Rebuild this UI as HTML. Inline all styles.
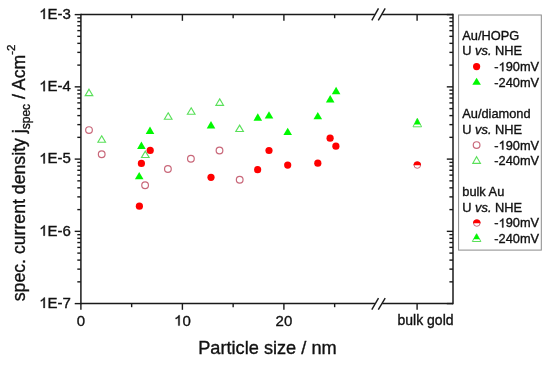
<!DOCTYPE html>
<html><head><meta charset="utf-8"><style>
html,body{margin:0;padding:0;background:#fff;}
body{width:550px;height:365px;position:relative;overflow:hidden;font-family:"Liberation Sans",sans-serif;}
</style></head><body>
<svg width="550" height="365" viewBox="0 0 550 365" style="position:absolute;left:0;top:0;will-change:transform">
<rect width="550" height="365" fill="#fff"/>
<g stroke="#1a1a1a" stroke-width="1.5" fill="none" stroke-linecap="butt">
<line x1="80.9" y1="13.85" x2="80.9" y2="304.35"/>
<line x1="453.0" y1="13.85" x2="453.0" y2="304.35"/>
<line x1="80.9" y1="14.6" x2="374.9" y2="14.6"/>
<line x1="382.2" y1="14.6" x2="453.0" y2="14.6"/>
<line x1="80.9" y1="303.6" x2="374.9" y2="303.6"/>
<line x1="382.2" y1="303.6" x2="453.0" y2="303.6"/>
</g>
<g stroke="#1a1a1a" stroke-width="1.4" fill="none">
<line x1="371.79999999999995" y1="20.4" x2="378.5" y2="8.399999999999999"/>
<line x1="378.3" y1="20.4" x2="385.2" y2="8.399999999999999"/>
<line x1="371.79999999999995" y1="309.70000000000005" x2="378.5" y2="298.1"/>
<line x1="378.3" y1="309.70000000000005" x2="385.2" y2="298.1"/>
</g>
<g stroke="#1a1a1a" stroke-width="1.4" fill="none">
<line x1="74.7" y1="14.6" x2="80.9" y2="14.6"/>
<line x1="446.8" y1="14.6" x2="453.0" y2="14.6"/>
<line x1="74.7" y1="86.85" x2="80.9" y2="86.85"/>
<line x1="446.8" y1="86.85" x2="453.0" y2="86.85"/>
<line x1="77.30000000000001" y1="65.10" x2="80.9" y2="65.10"/>
<line x1="449.4" y1="65.10" x2="453.0" y2="65.10"/>
<line x1="77.30000000000001" y1="52.38" x2="80.9" y2="52.38"/>
<line x1="449.4" y1="52.38" x2="453.0" y2="52.38"/>
<line x1="77.30000000000001" y1="43.35" x2="80.9" y2="43.35"/>
<line x1="449.4" y1="43.35" x2="453.0" y2="43.35"/>
<line x1="77.30000000000001" y1="36.35" x2="80.9" y2="36.35"/>
<line x1="449.4" y1="36.35" x2="453.0" y2="36.35"/>
<line x1="77.30000000000001" y1="30.63" x2="80.9" y2="30.63"/>
<line x1="449.4" y1="30.63" x2="453.0" y2="30.63"/>
<line x1="77.30000000000001" y1="25.79" x2="80.9" y2="25.79"/>
<line x1="449.4" y1="25.79" x2="453.0" y2="25.79"/>
<line x1="77.30000000000001" y1="21.60" x2="80.9" y2="21.60"/>
<line x1="449.4" y1="21.60" x2="453.0" y2="21.60"/>
<line x1="77.30000000000001" y1="17.91" x2="80.9" y2="17.91"/>
<line x1="449.4" y1="17.91" x2="453.0" y2="17.91"/>
<line x1="74.7" y1="159.1" x2="80.9" y2="159.1"/>
<line x1="446.8" y1="159.1" x2="453.0" y2="159.1"/>
<line x1="77.30000000000001" y1="137.35" x2="80.9" y2="137.35"/>
<line x1="449.4" y1="137.35" x2="453.0" y2="137.35"/>
<line x1="77.30000000000001" y1="124.63" x2="80.9" y2="124.63"/>
<line x1="449.4" y1="124.63" x2="453.0" y2="124.63"/>
<line x1="77.30000000000001" y1="115.60" x2="80.9" y2="115.60"/>
<line x1="449.4" y1="115.60" x2="453.0" y2="115.60"/>
<line x1="77.30000000000001" y1="108.60" x2="80.9" y2="108.60"/>
<line x1="449.4" y1="108.60" x2="453.0" y2="108.60"/>
<line x1="77.30000000000001" y1="102.88" x2="80.9" y2="102.88"/>
<line x1="449.4" y1="102.88" x2="453.0" y2="102.88"/>
<line x1="77.30000000000001" y1="98.04" x2="80.9" y2="98.04"/>
<line x1="449.4" y1="98.04" x2="453.0" y2="98.04"/>
<line x1="77.30000000000001" y1="93.85" x2="80.9" y2="93.85"/>
<line x1="449.4" y1="93.85" x2="453.0" y2="93.85"/>
<line x1="77.30000000000001" y1="90.16" x2="80.9" y2="90.16"/>
<line x1="449.4" y1="90.16" x2="453.0" y2="90.16"/>
<line x1="74.7" y1="231.35" x2="80.9" y2="231.35"/>
<line x1="446.8" y1="231.35" x2="453.0" y2="231.35"/>
<line x1="77.30000000000001" y1="209.60" x2="80.9" y2="209.60"/>
<line x1="449.4" y1="209.60" x2="453.0" y2="209.60"/>
<line x1="77.30000000000001" y1="196.88" x2="80.9" y2="196.88"/>
<line x1="449.4" y1="196.88" x2="453.0" y2="196.88"/>
<line x1="77.30000000000001" y1="187.85" x2="80.9" y2="187.85"/>
<line x1="449.4" y1="187.85" x2="453.0" y2="187.85"/>
<line x1="77.30000000000001" y1="180.85" x2="80.9" y2="180.85"/>
<line x1="449.4" y1="180.85" x2="453.0" y2="180.85"/>
<line x1="77.30000000000001" y1="175.13" x2="80.9" y2="175.13"/>
<line x1="449.4" y1="175.13" x2="453.0" y2="175.13"/>
<line x1="77.30000000000001" y1="170.29" x2="80.9" y2="170.29"/>
<line x1="449.4" y1="170.29" x2="453.0" y2="170.29"/>
<line x1="77.30000000000001" y1="166.10" x2="80.9" y2="166.10"/>
<line x1="449.4" y1="166.10" x2="453.0" y2="166.10"/>
<line x1="77.30000000000001" y1="162.41" x2="80.9" y2="162.41"/>
<line x1="449.4" y1="162.41" x2="453.0" y2="162.41"/>
<line x1="74.7" y1="303.6" x2="80.9" y2="303.6"/>
<line x1="446.8" y1="303.6" x2="453.0" y2="303.6"/>
<line x1="77.30000000000001" y1="281.85" x2="80.9" y2="281.85"/>
<line x1="449.4" y1="281.85" x2="453.0" y2="281.85"/>
<line x1="77.30000000000001" y1="269.13" x2="80.9" y2="269.13"/>
<line x1="449.4" y1="269.13" x2="453.0" y2="269.13"/>
<line x1="77.30000000000001" y1="260.10" x2="80.9" y2="260.10"/>
<line x1="449.4" y1="260.10" x2="453.0" y2="260.10"/>
<line x1="77.30000000000001" y1="253.10" x2="80.9" y2="253.10"/>
<line x1="449.4" y1="253.10" x2="453.0" y2="253.10"/>
<line x1="77.30000000000001" y1="247.38" x2="80.9" y2="247.38"/>
<line x1="449.4" y1="247.38" x2="453.0" y2="247.38"/>
<line x1="77.30000000000001" y1="242.54" x2="80.9" y2="242.54"/>
<line x1="449.4" y1="242.54" x2="453.0" y2="242.54"/>
<line x1="77.30000000000001" y1="238.35" x2="80.9" y2="238.35"/>
<line x1="449.4" y1="238.35" x2="453.0" y2="238.35"/>
<line x1="77.30000000000001" y1="234.66" x2="80.9" y2="234.66"/>
<line x1="449.4" y1="234.66" x2="453.0" y2="234.66"/>
<line x1="80.90" y1="303.6" x2="80.90" y2="309.8"/>
<line x1="182.40" y1="303.6" x2="182.40" y2="309.8"/>
<line x1="182.40" y1="14.6" x2="182.40" y2="20.8"/>
<line x1="283.90" y1="303.6" x2="283.90" y2="309.8"/>
<line x1="283.90" y1="14.6" x2="283.90" y2="20.8"/>
<line x1="131.65" y1="303.6" x2="131.65" y2="307.20000000000005"/>
<line x1="131.65" y1="14.6" x2="131.65" y2="18.2"/>
<line x1="233.15" y1="303.6" x2="233.15" y2="307.20000000000005"/>
<line x1="233.15" y1="14.6" x2="233.15" y2="18.2"/>
<line x1="334.65" y1="303.6" x2="334.65" y2="307.20000000000005"/>
<line x1="334.65" y1="14.6" x2="334.65" y2="18.2"/>
<line x1="417.1" y1="303.6" x2="417.1" y2="309.8"/>
<line x1="417.1" y1="14.6" x2="417.1" y2="20.8"/>
</g>
<g font-family="'Liberation Sans', sans-serif" font-size="15" fill="#111" stroke="#111" stroke-width="0.35">
<path transform="translate(39.22,18.90) scale(0.00732,-0.00732)" d="M763,0H583V1098Q518,1039 412,979Q306,920 221,890V1057Q373,1125 487,1221Q601,1318 648,1409H763Z" fill="#111" stroke="#111" stroke-width="47.8"/><text x="47.56" y="18.90" font-size="15" >E-3</text>
<path transform="translate(39.22,91.15) scale(0.00732,-0.00732)" d="M763,0H583V1098Q518,1039 412,979Q306,920 221,890V1057Q373,1125 487,1221Q601,1318 648,1409H763Z" fill="#111" stroke="#111" stroke-width="47.8"/><text x="47.56" y="91.15" font-size="15" >E-4</text>
<path transform="translate(39.22,163.40) scale(0.00732,-0.00732)" d="M763,0H583V1098Q518,1039 412,979Q306,920 221,890V1057Q373,1125 487,1221Q601,1318 648,1409H763Z" fill="#111" stroke="#111" stroke-width="47.8"/><text x="47.56" y="163.40" font-size="15" >E-5</text>
<path transform="translate(39.22,235.65) scale(0.00732,-0.00732)" d="M763,0H583V1098Q518,1039 412,979Q306,920 221,890V1057Q373,1125 487,1221Q601,1318 648,1409H763Z" fill="#111" stroke="#111" stroke-width="47.8"/><text x="47.56" y="235.65" font-size="15" >E-6</text>
<path transform="translate(39.22,307.90) scale(0.00732,-0.00732)" d="M763,0H583V1098Q518,1039 412,979Q306,920 221,890V1057Q373,1125 487,1221Q601,1318 648,1409H763Z" fill="#111" stroke="#111" stroke-width="47.8"/><text x="47.56" y="307.90" font-size="15" >E-7</text>
<text x="76.73" y="325.60" font-size="15" >0</text>
<path transform="translate(174.06,325.60) scale(0.00732,-0.00732)" d="M763,0H583V1098Q518,1039 412,979Q306,920 221,890V1057Q373,1125 487,1221Q601,1318 648,1409H763Z" fill="#111" stroke="#111" stroke-width="47.8"/><text x="182.40" y="325.60" font-size="15" >0</text>
<text x="275.56" y="325.60" font-size="15" >20</text>
<text x="397.5" y="324.5" font-size="14">bulk gold</text>
</g>
<text x="198.2" y="353.7" font-family="'Liberation Sans', sans-serif" font-size="18.2" fill="#111" stroke="#111" stroke-width="0.35">Particle size / nm</text>
<text transform="translate(24.6,301.3) rotate(-90)" font-family="'Liberation Sans', sans-serif" font-size="17.7" fill="#111" stroke="#111" stroke-width="0.35">spec. current density j<tspan font-size="12" dy="5.5">spec</tspan><tspan dy="-5.5"> / Acm</tspan><tspan font-size="11.5" dy="-9.5">-2</tspan></text>
<circle cx="89.0" cy="130.1" r="3.35" fill="none" stroke="#c9687a" stroke-width="1.2"/>
<circle cx="101.7" cy="154.2" r="3.35" fill="none" stroke="#c9687a" stroke-width="1.2"/>
<circle cx="145.1" cy="185.3" r="3.35" fill="none" stroke="#c9687a" stroke-width="1.2"/>
<circle cx="167.9" cy="169.0" r="3.35" fill="none" stroke="#c9687a" stroke-width="1.2"/>
<circle cx="190.9" cy="158.8" r="3.35" fill="none" stroke="#c9687a" stroke-width="1.2"/>
<circle cx="219.5" cy="150.5" r="3.35" fill="none" stroke="#c9687a" stroke-width="1.2"/>
<circle cx="239.7" cy="179.7" r="3.35" fill="none" stroke="#c9687a" stroke-width="1.2"/>
<polygon points="89.0,89.2 92.8,95.60000000000001 85.2,95.60000000000001" fill="none" stroke="#5ae05a" stroke-width="1.15" stroke-linejoin="miter"/>
<polygon points="101.7,135.79999999999998 105.5,142.2 97.9,142.2" fill="none" stroke="#5ae05a" stroke-width="1.15" stroke-linejoin="miter"/>
<polygon points="145.3,151.1 149.10000000000002,157.5 141.5,157.5" fill="none" stroke="#5ae05a" stroke-width="1.15" stroke-linejoin="miter"/>
<polygon points="168.2,112.8 172.0,119.2 164.39999999999998,119.2" fill="none" stroke="#5ae05a" stroke-width="1.15" stroke-linejoin="miter"/>
<polygon points="191.2,107.8 195.0,114.2 187.39999999999998,114.2" fill="none" stroke="#5ae05a" stroke-width="1.15" stroke-linejoin="miter"/>
<polygon points="219.7,98.9 223.5,105.30000000000001 215.89999999999998,105.30000000000001" fill="none" stroke="#5ae05a" stroke-width="1.15" stroke-linejoin="miter"/>
<polygon points="239.6,125.10000000000001 243.4,131.5 235.79999999999998,131.5" fill="none" stroke="#5ae05a" stroke-width="1.15" stroke-linejoin="miter"/>
<circle cx="139.4" cy="206.2" r="3.6" fill="#ff0000"/>
<circle cx="141.4" cy="163.4" r="3.6" fill="#ff0000"/>
<circle cx="150.2" cy="150.4" r="3.6" fill="#ff0000"/>
<circle cx="211.0" cy="177.3" r="3.6" fill="#ff0000"/>
<circle cx="257.6" cy="169.7" r="3.6" fill="#ff0000"/>
<circle cx="269.0" cy="150.5" r="3.6" fill="#ff0000"/>
<circle cx="287.7" cy="165.1" r="3.6" fill="#ff0000"/>
<circle cx="317.8" cy="163.2" r="3.6" fill="#ff0000"/>
<circle cx="330.1" cy="138.2" r="3.6" fill="#ff0000"/>
<circle cx="335.9" cy="146.2" r="3.6" fill="#ff0000"/>
<polygon points="139.2,171.9 143.5,179.3 134.89999999999998,179.3" fill="#00f800"/>
<polygon points="141.4,141.6 145.70000000000002,149.0 137.1,149.0" fill="#00f800"/>
<polygon points="150.0,126.6 154.3,134.0 145.7,134.0" fill="#00f800"/>
<polygon points="211.0,121.0 215.3,128.4 206.7,128.4" fill="#00f800"/>
<polygon points="257.8,113.3 262.1,120.7 253.5,120.7" fill="#00f800"/>
<polygon points="269.0,111.2 273.3,118.60000000000001 264.7,118.60000000000001" fill="#00f800"/>
<polygon points="287.7,127.7 292.0,135.1 283.4,135.1" fill="#00f800"/>
<polygon points="317.8,111.9 322.1,119.30000000000001 313.5,119.30000000000001" fill="#00f800"/>
<polygon points="330.2,95.1 334.5,102.5 325.9,102.5" fill="#00f800"/>
<polygon points="336.1,86.8 340.40000000000003,94.2 331.8,94.2" fill="#00f800"/>
<circle cx="417.3" cy="165.0" r="3.3" fill="#fff" stroke="#c9687a" stroke-width="1.0"/>
<path d="M413.5,165.3 A3.8,3.8 0 0 1 421.1,165.3 Z" fill="#ff0000"/>
<polygon points="417.3,118.3 421.6,126.8 413.0,126.8" fill="#fff" stroke="#5ae05a" stroke-width="1.0"/>
<polygon points="417.3,118.3 420.4870588235294,124.6 414.1129411764706,124.6" fill="#00f800"/>
<rect x="458.6" y="15.0" width="82.69999999999993" height="235.1" fill="none" stroke="#8a8a8a" stroke-width="1"/>
<g font-family="'Liberation Sans', sans-serif" font-size="12.8" fill="#111" stroke="#111" stroke-width="0.35">
<text x="462.3" y="39.8">Au/HOPG</text>
<text x="462.3" y="54.7">U <tspan font-style="italic">vs.</tspan> NHE</text>
<text x="494.30" y="71.20" font-size="12.8" >-</text><path transform="translate(498.56,71.20) scale(0.00625,-0.00625)" d="M763,0H583V1098Q518,1039 412,979Q306,920 221,890V1057Q373,1125 487,1221Q601,1318 648,1409H763Z" fill="#111" stroke="#111" stroke-width="56.0"/><text x="505.68" y="71.20" font-size="12.8" >90mV</text>
<text x="494.30" y="86.90" font-size="12.8" >-240mV</text>
<text x="462.3" y="118.0">Au/diamond</text>
<text x="462.3" y="133.7">U <tspan font-style="italic">vs.</tspan> NHE</text>
<text x="494.30" y="149.50" font-size="12.8" >-</text><path transform="translate(498.56,149.50) scale(0.00625,-0.00625)" d="M763,0H583V1098Q518,1039 412,979Q306,920 221,890V1057Q373,1125 487,1221Q601,1318 648,1409H763Z" fill="#111" stroke="#111" stroke-width="56.0"/><text x="505.68" y="149.50" font-size="12.8" >90mV</text>
<text x="494.30" y="165.30" font-size="12.8" >-240mV</text>
<text x="462.3" y="196.2">bulk Au</text>
<text x="462.3" y="211.9">U <tspan font-style="italic">vs.</tspan> NHE</text>
<text x="494.30" y="227.40" font-size="12.8" >-</text><path transform="translate(498.56,227.40) scale(0.00625,-0.00625)" d="M763,0H583V1098Q518,1039 412,979Q306,920 221,890V1057Q373,1125 487,1221Q601,1318 648,1409H763Z" fill="#111" stroke="#111" stroke-width="56.0"/><text x="505.68" y="227.40" font-size="12.8" >90mV</text>
<text x="494.30" y="242.90" font-size="12.8" >-240mV</text>
</g>
<circle cx="476.6" cy="66.6" r="3.6" fill="#ff0000"/>
<polygon points="476.6,77.8 480.90000000000003,84.8 472.3,84.8" fill="#00f800"/>
<circle cx="476.6" cy="145.1" r="3.35" fill="none" stroke="#c9687a" stroke-width="1.2"/>
<polygon points="476.6,156.7 480.40000000000003,163.29999999999998 472.8,163.29999999999998" fill="none" stroke="#5ae05a" stroke-width="1.15" stroke-linejoin="miter"/>
<circle cx="476.8" cy="223.0" r="3.3" fill="#fff" stroke="#c9687a" stroke-width="1.0"/>
<path d="M473.0,223.3 A3.8,3.8 0 0 1 480.6,223.3 Z" fill="#ff0000"/>
<polygon points="476.6,233.7 480.90000000000003,241.5 472.3,241.5" fill="#fff" stroke="#5ae05a" stroke-width="1.0"/>
<polygon points="476.6,233.7 479.6871794871795,239.3 473.51282051282055,239.3" fill="#00f800"/>
</svg>
</body></html>
